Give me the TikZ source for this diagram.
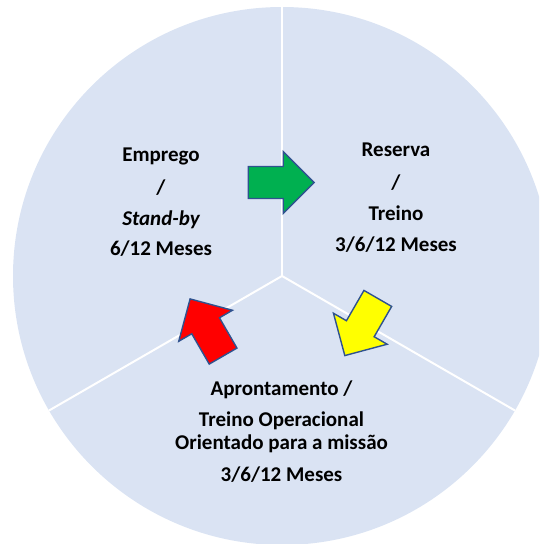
\documentclass[tikz,border=0pt]{standalone}
\usepackage{fontspec}
\setmainfont{Carlito}
\definecolor{piefill}{HTML}{DAE3F3}
\definecolor{arrowline}{HTML}{2F528F}
\definecolor{agreen}{HTML}{00B050}
\definecolor{ared}{HTML}{FF0000}
\definecolor{ayellow}{HTML}{FFFF00}
\tikzset{
  lbl/.style={anchor=base, inner sep=0pt, font=\bfseries\fontsize{21}{25}\selectfont, text=black},
  sep/.style={draw=white, line width=2pt},
  blockarrow/.style={draw=arrowline, line width=1.4pt, line join=miter},
}
\newcommand{\blockarrowpath}{(-33,-16) -- (2,-16) -- (2,-31) -- (33,0) -- (2,31) -- (2,16) -- (-33,16) -- cycle}
\begin{document}
\begin{tikzpicture}[x=1pt,y=-1pt]
\useasboundingbox (0,0) rectangle (539,544);
\clip (0,0) rectangle (539,544);
% pie
\coordinate (c) at (282,276);
\fill[piefill] (c) circle[radius=269];
\path (c) ++(0,-269) coordinate (ptop);
\path (c) ++(-232.96,134.5) coordinate (pleft);
\path (c) ++(232.96,134.5) coordinate (pright);
\draw[sep] (c) -- (ptop);
\draw[sep] (c) -- (pleft);
\draw[sep] (c) -- (pright);
% arrows
\filldraw[blockarrow, fill=agreen, shift={(281.2,182.5)}] \blockarrowpath;
\filldraw[blockarrow, fill=ared, shift={(206.6,327.5)}, rotate=120] \blockarrowpath;
\filldraw[blockarrow, fill=ayellow, shift={(361.3,327)}, rotate=240] \blockarrowpath;
% left text
\node[lbl] (e1) at (161,161.7) {Emprego};
\node[lbl] (e2) at (161,194.5) {/};
\node[lbl] (e3) at (161,225) {\itshape Stand-by};
\node[lbl] (e4) at (161,255.7) {6/12 Meses};
% right text
\node[lbl] (r1) at (396,156.7) {Reserva};
\node[lbl] (r2) at (396,189) {/};
\node[lbl] (r3) at (396,220) {Treino};
\node[lbl] (r4) at (396,251.7) {3/6/12 Meses};
% bottom text
\node[lbl] (b1) at (281.5,395) {Aprontamento /};
\node[lbl] (b2) at (281.5,426.7) {Treino Operacional};
\node[lbl] (b3) at (281.5,449.3) {Orientado para a missão};
\node[lbl] (b4) at (281.5,481) {3/6/12 Meses};
\end{tikzpicture}
\end{document}
